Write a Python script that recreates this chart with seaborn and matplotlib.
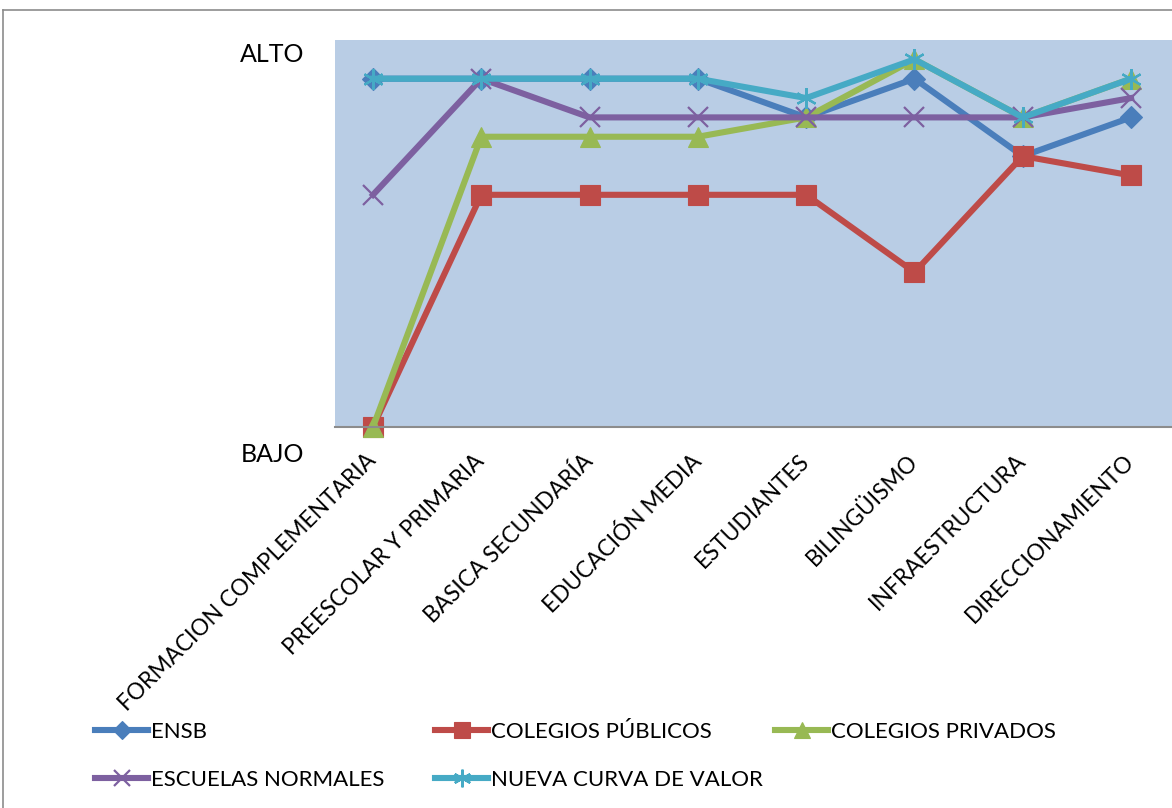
import matplotlib
matplotlib.use("Agg")
import matplotlib.pyplot as plt
import matplotlib.transforms as mtransforms
import seaborn as sns
import pandas as pd

categories = ["FORMACION COMPLEMENTARIA", "PREESCOLAR Y PRIMARIA", "BASICA SECUNDARÍA",
              "EDUCACIÓN MEDIA", "ESTUDIANTES", "BILINGÜISMO", "INFRAESTRUCTURA",
              "DIRECCIONAMIENTO"]
series_names = ["ENSB", "COLEGIOS PÚBLICOS", "COLEGIOS PRIVADOS",
                "ESCUELAS NORMALES", "NUEVA CURVA DE VALOR"]
ensb = [18, 18, 18, 18, 16, 18, 14, 16]
publicos = [0, 12, 12, 12, 12, 8, 14, 13]
privados = [0, 15, 15, 15, 16, 19, 16, 18]
normales = [12, 18, 16, 16, 16, 16, 16, 17]
nueva = [18, 18, 18, 18, 17, 19, 16, 18]
y_tick_values = [0, 20]
y_tick_labels = ["BAJO", "ALTO"]

colors = ["#4A7EBB", "#BE4B48", "#98B954", "#7D60A0", "#46AAC5"]
markers = ["D", "s", "^", "x", (6, 2, 0)]
msizes = [11, 14, 14, 14, 15]

plt.rcParams["font.family"] = ["Lato", "DejaVu Sans"]

fig = plt.figure(figsize=(11.72, 8.08), dpi=100)
ax = fig.add_axes([335 / 1172, 1 - 427 / 808, 1 - 335 / 1172, (427 - 40) / 808])
ax.set_facecolor("#B9CDE5")

# outer chart frame
fig.add_artist(plt.Line2D([3 / 1172, 3 / 1172], [0, 1 - 10 / 808], transform=fig.transFigure,
                          color="#8C8C8C", lw=1.2))
fig.add_artist(plt.Line2D([3 / 1172, 1], [1 - 10 / 808, 1 - 10 / 808], transform=fig.transFigure,
                          color="#8C8C8C", lw=1.2))

values = [ensb, publicos, privados, normales, nueva]
for name, vals, c, m, ms in zip(series_names, values, colors, markers, msizes):
    df = pd.DataFrame({"x": range(len(categories)), "y": vals})
    unfilled = m in ("x",) or isinstance(m, tuple)
    sns.lineplot(data=df, x="x", y="y", ax=ax, color=c, marker=m, markersize=ms,
                 linewidth=4.4, label=name, clip_on=False,
                 markeredgecolor=c, markeredgewidth=1.6 if unfilled else 0.8,
                 markerfacecolor=c)

ax.set_xlim(-0.351, 7.378)
ax.set_ylim(0, 20)
ax.set_xlabel("")
ax.set_ylabel("")
ax.set_xticks(range(len(categories)))
ax.set_xticklabels(categories, rotation=45, ha="right", va="center",
                   rotation_mode="anchor", fontsize=16.3)
ax.set_yticks(y_tick_values)
ax.set_yticklabels(y_tick_labels, fontsize=18)
ax.tick_params(axis="both", length=0)
ax.tick_params(axis="x", pad=22)
ax.tick_params(axis="y", pad=22)
for lbl, dy in zip(ax.get_yticklabels(), [-25, -12]):
    lbl.set_transform(lbl.get_transform() + mtransforms.ScaledTranslation(0, dy / 100, fig.dpi_scale_trans))

for side in ["top", "right", "left"]:
    ax.spines[side].set_visible(False)
ax.spines["bottom"].set_color("#8C8C8C")
ax.spines["bottom"].set_linewidth(1.5)

handles, labels = ax.get_legend_handles_labels()
ax.get_legend().remove()
cols = [[0, 3], [1, 4], [2]]
col_x = [95, 435, 775]
for idx, x0 in zip(cols, col_x):
    fig.legend([handles[i] for i in idx], [labels[i] for i in idx],
               loc="upper left", bbox_to_anchor=(x0 / 1172, 1 - 722 / 808),
               frameon=False, fontsize=16, handlelength=2.4, handletextpad=0.1,
               labelspacing=1.25, borderpad=0, borderaxespad=0, markerscale=0.85)

fig.savefig("out.png", dpi=100)
